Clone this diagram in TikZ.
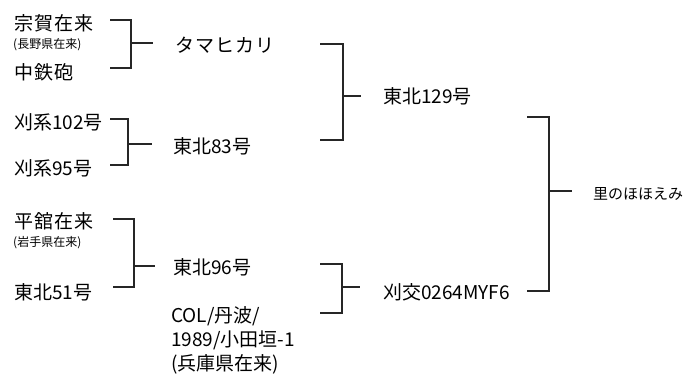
\documentclass[tikz,border=0pt]{standalone}
\usepackage{fontspec}
\newfontfamily\jp{Noto Sans CJK JP}
\newfontfamily\jpsp{Noto Sans CJK JP}[LetterSpace=6]
\begin{document}
\begin{tikzpicture}[x=1pt,y=-1pt,
  big/.style={anchor=west,inner sep=0pt,font=\jp\fontsize{19}{24}\selectfont},
  bigsp/.style={anchor=west,inner sep=0pt,font=\jpsp\fontsize{19}{24}\selectfont},
  small/.style={anchor=west,inner sep=0pt,font=\jp\fontsize{12}{14}\selectfont},
  mid/.style={anchor=west,inner sep=0pt,font=\jp\fontsize{15}{18}\selectfont},
  conn/.style={line width=1.1pt,draw=black!85}]
\useasboundingbox (0,0) rectangle (692,374);
% leaves
\node[bigsp] (n1) at (14,23) {宗賀在来};
\node[small] (n1s) at (13,45) {(長野県在来)};
\node[bigsp] (n2) at (14,72) {中鉄砲};
\node[big] (n3) at (14,122) {刈系102号};
\node[big] (n4) at (14,168) {刈系95号};
\node[bigsp] (n5) at (14,221) {平舘在来};
\node[small] (n5s) at (13,243) {(岩手県在来)};
\node[big] (n6) at (14,292) {東北51号};
% middle
\node[bigsp] (m1) at (175,45) {タマヒカリ};
\node[big] (m2) at (173,146) {東北83号};
\node[big] (m3) at (173,267) {東北96号};
\node[big,align=left] (m4) at (171,340) {COL/丹波/\\1989/小田垣-1\\(兵庫県在来)};
% right
\node[big] (r1) at (383,96) {東北129号};
\node[big] (r2) at (383,292) {刈交0264MYF6};
\node[mid] (f) at (593,194) {里のほほえみ};
% bracket coordinates
\coordinate (a1) at (110,20); \coordinate (a2) at (110,68);
\coordinate (av) at (131,43); \coordinate (ae) at (153,43);
\coordinate (b1) at (110,119); \coordinate (b2) at (110,165);
\coordinate (bv) at (128,144); \coordinate (be) at (152,144);
\coordinate (c1) at (113,219); \coordinate (c2) at (113,287);
\coordinate (cv) at (134,266); \coordinate (ce) at (155,266);
\coordinate (d1) at (320,44); \coordinate (d2) at (320,140);
\coordinate (dv) at (343,96); \coordinate (de) at (361,96);
\coordinate (e1) at (320,264); \coordinate (e2) at (320,313);
\coordinate (ev) at (342,287); \coordinate (ee) at (360,287);
\coordinate (g1) at (527,117); \coordinate (g2) at (527,291);
\coordinate (gv) at (549,191); \coordinate (ge) at (572,191);
\foreach \p in {a,b,c,d,e,g}{
  \draw[conn] (\p1) -| (\p v) |- (\p2);
  \draw[conn] (\p v) -- (\p e);
}
\end{tikzpicture}
\end{document}
